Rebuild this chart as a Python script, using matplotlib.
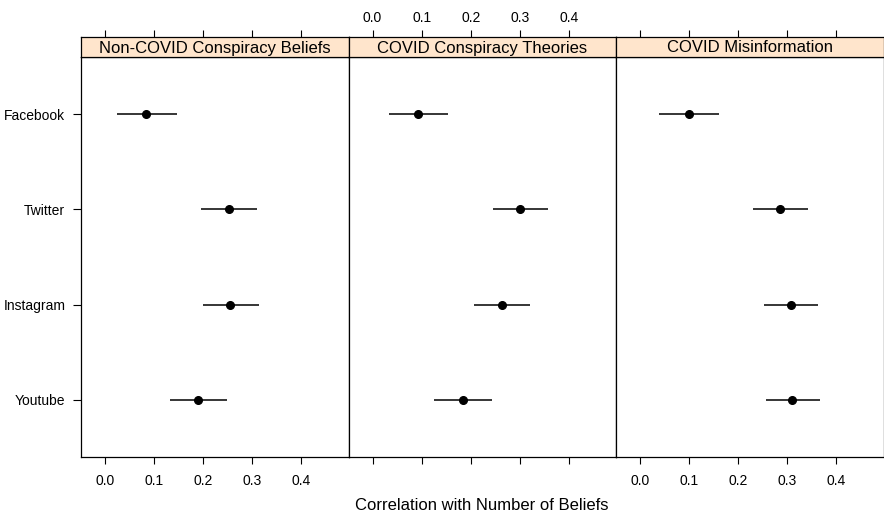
import matplotlib.pyplot as plt

plt.rcParams["font.family"] = ["Liberation Sans", "DejaVu Sans"]

platforms = ["Facebook", "Twitter", "Instagram", "Youtube"]
panels = ["Non-COVID Conspiracy Beliefs", "COVID Conspiracy Theories", "COVID Misinformation"]

# correlation estimates and 95% CI per panel, order as platforms
est = [
    [0.084, 0.252, 0.255, 0.190],
    [0.092, 0.301, 0.264, 0.184],
    [0.099, 0.286, 0.307, 0.310],
]
lower = [
    [0.024, 0.195, 0.199, 0.132],
    [0.033, 0.246, 0.207, 0.126],
    [0.039, 0.230, 0.252, 0.256],
]
upper = [
    [0.146, 0.310, 0.313, 0.249],
    [0.154, 0.357, 0.321, 0.244],
    [0.160, 0.342, 0.363, 0.367],
]
xticks = [0.0, 0.1, 0.2, 0.3, 0.4]
xlim = (-0.049, 0.496)

W, H = 884, 517
fig = plt.figure(figsize=(W / 100, H / 100), dpi=100)

left_px, panel_w = 81, 267.5
top_px, bot_px, strip_h = 57, 457, 20
ypos = [4, 3, 2, 1]
labels = [f"{t:.1f}" for t in xticks]

for i, name in enumerate(panels):
    x0 = (left_px + i * panel_w) / W
    ax = fig.add_axes([x0, 1 - bot_px / H, panel_w / W, (bot_px - top_px) / H])
    ax.hlines(ypos, lower[i], upper[i], color="black", lw=1.1)
    ax.plot(est[i], ypos, "o", color="black", ms=5.5)
    ax.set_xlim(xlim)
    ax.set_ylim(0.4, 4.6)
    ax.set_xticks(xticks)
    ax.set_xticklabels([] if i == 1 else labels)
    ax.tick_params(axis="x", direction="out", length=5, width=0.8, pad=7, labelsize=10)
    if i == 0:
        ax.set_yticks(ypos)
        ax.set_yticklabels(platforms)
        ax.tick_params(axis="y", length=5.8, width=0.8, pad=5.5, labelsize=10)
    else:
        ax.set_yticks([])
    for s in ax.spines.values():
        s.set_linewidth(0.9)

    sax = fig.add_axes([x0, 1 - top_px / H, panel_w / W, strip_h / H])
    sax.set_facecolor("#ffe5cc")
    sax.set_xlim(xlim)
    sax.set_yticks([])
    sax.xaxis.tick_top()
    sax.set_xticks(xticks)
    sax.set_xticklabels(labels if i == 1 else [])
    sax.tick_params(axis="x", direction="out", length=5, width=0.8, pad=4, labelsize=10)
    for s in sax.spines.values():
        s.set_linewidth(0.9)
    sax.text(0.5, 0.45, name, transform=sax.transAxes, ha="center", va="center", fontsize=12)

fig.text((left_px + 1.5 * panel_w) / W, 1 - 506 / H, "Correlation with Number of Beliefs",
         ha="center", va="center", fontsize=12)

fig.savefig("out.png", dpi=100)
